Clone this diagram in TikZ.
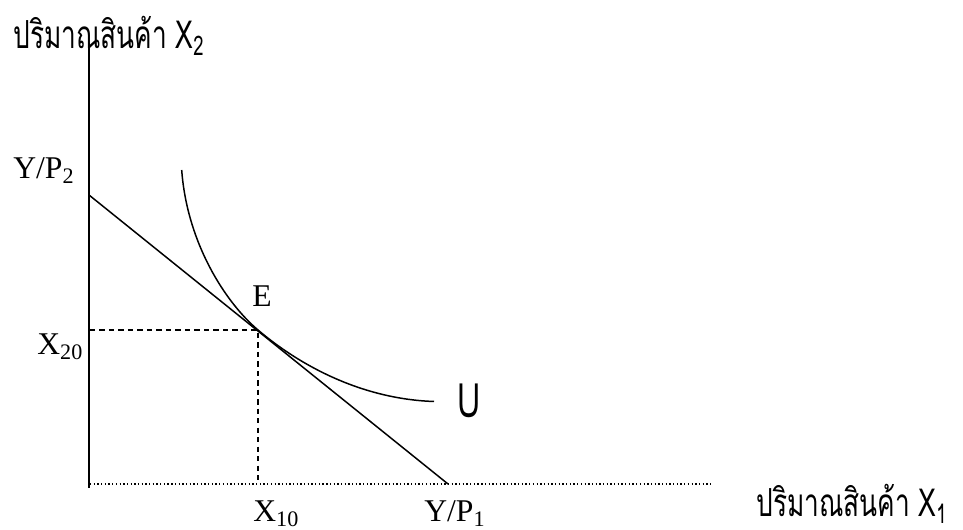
\documentclass[tikz,border=0pt]{standalone}
\usepackage{fontspec}
\usepackage{xcolor}
\usepackage{tikz}
\usetikzlibrary{positioning}
\setmainfont{Liberation Serif}
\newfontfamily\thaifont[Script=Thai, FakeStretch=0.68]{Loma}
\definecolor{graph-black}{RGB}{0, 0, 0}

\begin{document}
\begin{tikzpicture}[
  axisline/.style={line width=1.1pt, color=graph-black},
  baseaxis/.style={line width=0.75pt, color=graph-black, dash pattern=on 0.75pt off 1.35pt},
  budget/.style={line width=0.85pt, color=graph-black},
  indiff/.style={line width=0.85pt, color=graph-black},
  guide/.style={line width=0.75pt, color=graph-black, dash pattern=on 3pt off 2.4pt},
  lbl/.style={inner sep=0pt, anchor=base west, font=\fontsize{18}{21}\selectfont},
  thlbl/.style={inner sep=0pt, anchor=base west, font=\fontsize{22}{26}\thaifont}
]
  \useasboundingbox (0,0) rectangle (19.26,10.6);

  \coordinate (top)    at (1.78,9.74);
  \coordinate (bottom) at (1.78,0.84);
  \coordinate (orig)   at (1.80,0.92);
  \coordinate (xend)   at (14.2,0.92);
  \coordinate (bmax)   at (1.78,6.70);
  \coordinate (bmin)   at (8.96,0.92);
  \coordinate (eq)     at (5.16,4.00);
  \coordinate (eqx)    at (5.16,0.92);
  \coordinate (eqy)    at (1.80,4.00);
  \coordinate (ustart) at (3.634,7.20);
  \coordinate (uend)   at (8.68,2.57);

  \node[thlbl] (ylab)  at (0.26,9.62)  {ปริมาณสินค้า X\textsubscript{2}};
  \node[thlbl] (xlab)  at (15.12,0.26) {ปริมาณสินค้า X\textsubscript{1}};
  \node[lbl]   (yp2)   at (0.26,7.02)  {Y/P\textsubscript{2}};
  \node[lbl]   (x20)   at (0.74,3.50)  {X\textsubscript{20}};
  \node[lbl]   (elab)  at (5.04,4.46)  {E};
  \node[lbl]   (x10)   at (5.06,0.16)  {X\textsubscript{10}};
  \node[lbl]   (yp1)   at (8.48,0.16)  {Y/P\textsubscript{1}};
  \node[thlbl, font=\fontsize{27}{30}\thaifont] (ulab) at (9.14,2.24) {U};

  \draw[axisline] (top) -- (bottom);
  \draw[baseaxis] (orig) -- (xend);
  \draw[budget] (bmax) -- (bmin);
  \draw[indiff] (ustart) .. controls (3.74,5.75) and (4.5,4.56) .. (eq)
                .. controls (5.96,3.32) and (7.2,2.62) .. (uend);
  \draw[guide] (eqy) -- (eq) -- (eqx);
\end{tikzpicture}
\end{document}
